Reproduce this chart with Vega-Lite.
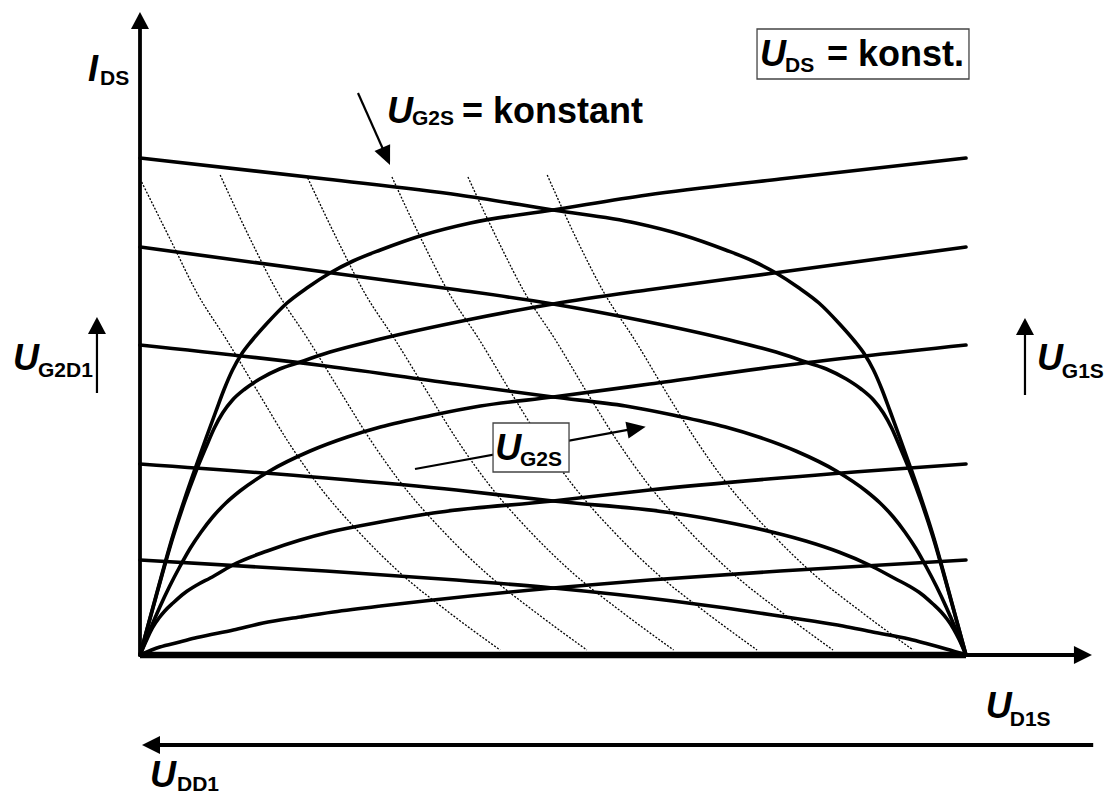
{
  "$schema": "https://vega.github.io/schema/vega-lite/v6.json",
  "width": 1107,
  "height": 796,
  "padding": 0,
  "autosize": {"type": "none"},
  "background": "white",
  "config": {"view": {"stroke": null}},
  "datasets": {
    "curves": [
      {"curve": "A1", "x": 0, "y": 0}, {"curve": "A1", "x": 2.0, "y": 12.2}, {"curve": "A1", "x": 4.0, "y": 24.0}, {"curve": "A1", "x": 5.4, "y": 31.2}, {"curve": "A1", "x": 6.7, "y": 37.4}, {"curve": "A1", "x": 8.0, "y": 43.4}, {"curve": "A1", "x": 9.2, "y": 48.8}, {"curve": "A1", "x": 10.2, "y": 53.2}, {"curve": "A1", "x": 11.2, "y": 57.0}, {"curve": "A1", "x": 12.3, "y": 60.2}, {"curve": "A1", "x": 13.5, "y": 62.8}, {"curve": "A1", "x": 15.3, "y": 66.2}, {"curve": "A1", "x": 17.8, "y": 70.4}, {"curve": "A1", "x": 20.2, "y": 73.4}, {"curve": "A1", "x": 23.0, "y": 76.4}, {"curve": "A1", "x": 25.8, "y": 78.8}, {"curve": "A1", "x": 29.1, "y": 81.0}, {"curve": "A1", "x": 34.3, "y": 84.0}, {"curve": "A1", "x": 40.0, "y": 86.4}, {"curve": "A1", "x": 50.0, "y": 89.0}, {"curve": "A1", "x": 61.4, "y": 92.0}, {"curve": "A1", "x": 77.5, "y": 95.2}, {"curve": "A1", "x": 100, "y": 99.4},
      {"curve": "A2", "x": 0, "y": 0}, {"curve": "A2", "x": 2.0, "y": 12.0}, {"curve": "A2", "x": 4.0, "y": 23.6}, {"curve": "A2", "x": 5.4, "y": 30.6}, {"curve": "A2", "x": 6.7, "y": 36.4}, {"curve": "A2", "x": 8.0, "y": 41.6}, {"curve": "A2", "x": 9.0, "y": 45.4}, {"curve": "A2", "x": 10.0, "y": 48.4}, {"curve": "A2", "x": 11.2, "y": 51.0}, {"curve": "A2", "x": 12.7, "y": 53.2}, {"curve": "A2", "x": 14.5, "y": 55.2}, {"curve": "A2", "x": 16.9, "y": 57.2}, {"curve": "A2", "x": 19.4, "y": 58.6}, {"curve": "A2", "x": 23.0, "y": 60.6}, {"curve": "A2", "x": 29.1, "y": 63.2}, {"curve": "A2", "x": 39.6, "y": 67.0}, {"curve": "A2", "x": 50.0, "y": 70.2}, {"curve": "A2", "x": 61.4, "y": 73.0}, {"curve": "A2", "x": 76.3, "y": 76.3}, {"curve": "A2", "x": 100, "y": 81.6},
      {"curve": "A3", "x": 0, "y": 0}, {"curve": "A3", "x": 1.2, "y": 5.0}, {"curve": "A3", "x": 2.4, "y": 9.6}, {"curve": "A3", "x": 3.6, "y": 13.8}, {"curve": "A3", "x": 4.8, "y": 17.6}, {"curve": "A3", "x": 6.1, "y": 21.4}, {"curve": "A3", "x": 7.4, "y": 24.6}, {"curve": "A3", "x": 8.8, "y": 27.6}, {"curve": "A3", "x": 10.4, "y": 30.4}, {"curve": "A3", "x": 12.1, "y": 32.8}, {"curve": "A3", "x": 15.7, "y": 36.8}, {"curve": "A3", "x": 20.6, "y": 40.8}, {"curve": "A3", "x": 25.1, "y": 43.6}, {"curve": "A3", "x": 29.1, "y": 45.6}, {"curve": "A3", "x": 35.5, "y": 48.0}, {"curve": "A3", "x": 41.2, "y": 49.8}, {"curve": "A3", "x": 50.0, "y": 51.6}, {"curve": "A3", "x": 61.7, "y": 54.2}, {"curve": "A3", "x": 77.5, "y": 57.8}, {"curve": "A3", "x": 100, "y": 62.0},
      {"curve": "A4", "x": 0, "y": 0}, {"curve": "A4", "x": 0.8, "y": 3.0}, {"curve": "A4", "x": 1.5, "y": 5.4}, {"curve": "A4", "x": 2.3, "y": 7.4}, {"curve": "A4", "x": 3.0, "y": 8.8}, {"curve": "A4", "x": 4.0, "y": 10.4}, {"curve": "A4", "x": 5.4, "y": 12.4}, {"curve": "A4", "x": 6.9, "y": 14.0}, {"curve": "A4", "x": 8.5, "y": 15.4}, {"curve": "A4", "x": 11.7, "y": 18.4}, {"curve": "A4", "x": 15.4, "y": 20.8}, {"curve": "A4", "x": 19.4, "y": 23.0}, {"curve": "A4", "x": 23.0, "y": 24.6}, {"curve": "A4", "x": 29.1, "y": 26.6}, {"curve": "A4", "x": 35.5, "y": 28.4}, {"curve": "A4", "x": 50.0, "y": 30.8}, {"curve": "A4", "x": 61.7, "y": 33.0}, {"curve": "A4", "x": 77.5, "y": 35.4}, {"curve": "A4", "x": 100, "y": 38.2},
      {"curve": "A5", "x": 0, "y": 0}, {"curve": "A5", "x": 2.4, "y": 1.6}, {"curve": "A5", "x": 4.8, "y": 2.6}, {"curve": "A5", "x": 6.9, "y": 3.5}, {"curve": "A5", "x": 11.3, "y": 5.0}, {"curve": "A5", "x": 14.9, "y": 6.4}, {"curve": "A5", "x": 19.4, "y": 7.6}, {"curve": "A5", "x": 23.4, "y": 8.6}, {"curve": "A5", "x": 29.1, "y": 9.8}, {"curve": "A5", "x": 35.5, "y": 11.0}, {"curve": "A5", "x": 50.0, "y": 13.4}, {"curve": "A5", "x": 61.7, "y": 15.0}, {"curve": "A5", "x": 77.5, "y": 16.8}, {"curve": "A5", "x": 100, "y": 19.0},
      {"curve": "B1", "x": 0, "y": 99.4}, {"curve": "B1", "x": 22.5, "y": 95.2}, {"curve": "B1", "x": 38.6, "y": 92.0}, {"curve": "B1", "x": 50.0, "y": 89.0}, {"curve": "B1", "x": 60.0, "y": 86.4}, {"curve": "B1", "x": 65.7, "y": 84.0}, {"curve": "B1", "x": 70.9, "y": 81.0}, {"curve": "B1", "x": 74.2, "y": 78.8}, {"curve": "B1", "x": 77.0, "y": 76.4}, {"curve": "B1", "x": 79.8, "y": 73.4}, {"curve": "B1", "x": 82.2, "y": 70.4}, {"curve": "B1", "x": 84.7, "y": 66.2}, {"curve": "B1", "x": 86.5, "y": 62.8}, {"curve": "B1", "x": 87.7, "y": 60.2}, {"curve": "B1", "x": 88.8, "y": 57.0}, {"curve": "B1", "x": 89.8, "y": 53.2}, {"curve": "B1", "x": 90.8, "y": 48.8}, {"curve": "B1", "x": 92.0, "y": 43.4}, {"curve": "B1", "x": 93.3, "y": 37.4}, {"curve": "B1", "x": 94.6, "y": 31.2}, {"curve": "B1", "x": 96.0, "y": 24.0}, {"curve": "B1", "x": 98.0, "y": 12.2}, {"curve": "B1", "x": 100, "y": 0},
      {"curve": "B2", "x": 0, "y": 81.6}, {"curve": "B2", "x": 23.7, "y": 76.3}, {"curve": "B2", "x": 38.6, "y": 73.0}, {"curve": "B2", "x": 50.0, "y": 70.2}, {"curve": "B2", "x": 60.4, "y": 67.0}, {"curve": "B2", "x": 70.9, "y": 63.2}, {"curve": "B2", "x": 77.0, "y": 60.6}, {"curve": "B2", "x": 80.6, "y": 58.6}, {"curve": "B2", "x": 83.1, "y": 57.2}, {"curve": "B2", "x": 85.5, "y": 55.2}, {"curve": "B2", "x": 87.3, "y": 53.2}, {"curve": "B2", "x": 88.8, "y": 51.0}, {"curve": "B2", "x": 90.0, "y": 48.4}, {"curve": "B2", "x": 91.0, "y": 45.4}, {"curve": "B2", "x": 92.0, "y": 41.6}, {"curve": "B2", "x": 93.3, "y": 36.4}, {"curve": "B2", "x": 94.6, "y": 30.6}, {"curve": "B2", "x": 96.0, "y": 23.6}, {"curve": "B2", "x": 98.0, "y": 12.0}, {"curve": "B2", "x": 100, "y": 0},
      {"curve": "B3", "x": 0, "y": 62.0}, {"curve": "B3", "x": 22.5, "y": 57.8}, {"curve": "B3", "x": 38.3, "y": 54.2}, {"curve": "B3", "x": 50.0, "y": 51.6}, {"curve": "B3", "x": 58.8, "y": 49.8}, {"curve": "B3", "x": 64.5, "y": 48.0}, {"curve": "B3", "x": 70.9, "y": 45.6}, {"curve": "B3", "x": 74.9, "y": 43.6}, {"curve": "B3", "x": 79.4, "y": 40.8}, {"curve": "B3", "x": 84.3, "y": 36.8}, {"curve": "B3", "x": 87.9, "y": 32.8}, {"curve": "B3", "x": 89.6, "y": 30.4}, {"curve": "B3", "x": 91.2, "y": 27.6}, {"curve": "B3", "x": 92.6, "y": 24.6}, {"curve": "B3", "x": 93.9, "y": 21.4}, {"curve": "B3", "x": 95.2, "y": 17.6}, {"curve": "B3", "x": 96.4, "y": 13.8}, {"curve": "B3", "x": 97.6, "y": 9.6}, {"curve": "B3", "x": 98.8, "y": 5.0}, {"curve": "B3", "x": 100, "y": 0},
      {"curve": "B4", "x": 0, "y": 38.2}, {"curve": "B4", "x": 22.5, "y": 35.4}, {"curve": "B4", "x": 38.3, "y": 33.0}, {"curve": "B4", "x": 50.0, "y": 30.8}, {"curve": "B4", "x": 64.5, "y": 28.4}, {"curve": "B4", "x": 70.9, "y": 26.6}, {"curve": "B4", "x": 77.0, "y": 24.4}, {"curve": "B4", "x": 80.6, "y": 22.8}, {"curve": "B4", "x": 84.6, "y": 20.6}, {"curve": "B4", "x": 88.3, "y": 18.0}, {"curve": "B4", "x": 91.5, "y": 15.2}, {"curve": "B4", "x": 93.1, "y": 13.8}, {"curve": "B4", "x": 94.6, "y": 12.2}, {"curve": "B4", "x": 96.0, "y": 10.2}, {"curve": "B4", "x": 97.0, "y": 8.6}, {"curve": "B4", "x": 97.7, "y": 7.2}, {"curve": "B4", "x": 98.5, "y": 5.2}, {"curve": "B4", "x": 99.2, "y": 3.0}, {"curve": "B4", "x": 100, "y": 0},
      {"curve": "B5", "x": 0, "y": 19.0}, {"curve": "B5", "x": 22.5, "y": 16.8}, {"curve": "B5", "x": 38.3, "y": 15.0}, {"curve": "B5", "x": 50.0, "y": 13.4}, {"curve": "B5", "x": 64.5, "y": 10.8}, {"curve": "B5", "x": 70.9, "y": 9.4}, {"curve": "B5", "x": 76.6, "y": 8.0}, {"curve": "B5", "x": 80.6, "y": 7.0}, {"curve": "B5", "x": 85.1, "y": 5.8}, {"curve": "B5", "x": 88.7, "y": 4.6}, {"curve": "B5", "x": 93.1, "y": 3.2}, {"curve": "B5", "x": 95.2, "y": 2.3}, {"curve": "B5", "x": 97.6, "y": 1.2}, {"curve": "B5", "x": 100, "y": 0}
    ],
    "dotted": [
      {"curve": "D1", "x": 0.2, "y": 94.6}, {"curve": "D1", "x": 4.0, "y": 82.0}, {"curve": "D1", "x": 6.9, "y": 72.4}, {"curve": "D1", "x": 10.5, "y": 63.0}, {"curve": "D1", "x": 14.5, "y": 52.0}, {"curve": "D1", "x": 17.8, "y": 43.0}, {"curve": "D1", "x": 21.4, "y": 34.4}, {"curve": "D1", "x": 26.6, "y": 24.4}, {"curve": "D1", "x": 31.5, "y": 16.4}, {"curve": "D1", "x": 37.5, "y": 8.4}, {"curve": "D1", "x": 43.6, "y": 1.0},
      {"curve": "D2", "x": 9.7, "y": 96.0}, {"curve": "D2", "x": 13.7, "y": 82.0}, {"curve": "D2", "x": 16.7, "y": 72.4}, {"curve": "D2", "x": 20.4, "y": 63.0}, {"curve": "D2", "x": 24.5, "y": 52.0}, {"curve": "D2", "x": 27.9, "y": 43.0}, {"curve": "D2", "x": 31.6, "y": 34.4}, {"curve": "D2", "x": 36.9, "y": 24.4}, {"curve": "D2", "x": 41.9, "y": 16.4}, {"curve": "D2", "x": 48.0, "y": 8.4}, {"curve": "D2", "x": 54.1, "y": 1.0},
      {"curve": "D3", "x": 20.3, "y": 95.4}, {"curve": "D3", "x": 24.2, "y": 82.0}, {"curve": "D3", "x": 27.2, "y": 72.4}, {"curve": "D3", "x": 30.9, "y": 63.0}, {"curve": "D3", "x": 35.0, "y": 52.0}, {"curve": "D3", "x": 38.4, "y": 43.0}, {"curve": "D3", "x": 42.1, "y": 34.4}, {"curve": "D3", "x": 47.4, "y": 24.4}, {"curve": "D3", "x": 52.4, "y": 16.4}, {"curve": "D3", "x": 58.5, "y": 8.4}, {"curve": "D3", "x": 64.6, "y": 1.0},
      {"curve": "D4", "x": 30.5, "y": 95.6}, {"curve": "D4", "x": 34.4, "y": 82.0}, {"curve": "D4", "x": 37.4, "y": 72.4}, {"curve": "D4", "x": 41.1, "y": 63.0}, {"curve": "D4", "x": 45.1, "y": 52.0}, {"curve": "D4", "x": 48.5, "y": 43.0}, {"curve": "D4", "x": 52.2, "y": 34.4}, {"curve": "D4", "x": 57.5, "y": 24.4}, {"curve": "D4", "x": 62.5, "y": 16.4}, {"curve": "D4", "x": 68.6, "y": 8.4}, {"curve": "D4", "x": 74.7, "y": 1.0},
      {"curve": "D5", "x": 39.7, "y": 95.6}, {"curve": "D5", "x": 43.6, "y": 82.0}, {"curve": "D5", "x": 46.6, "y": 72.4}, {"curve": "D5", "x": 50.3, "y": 63.0}, {"curve": "D5", "x": 54.3, "y": 52.0}, {"curve": "D5", "x": 57.7, "y": 43.0}, {"curve": "D5", "x": 61.4, "y": 34.4}, {"curve": "D5", "x": 66.7, "y": 24.4}, {"curve": "D5", "x": 71.7, "y": 16.4}, {"curve": "D5", "x": 77.8, "y": 8.4}, {"curve": "D5", "x": 83.9, "y": 1.0},
      {"curve": "D6", "x": 49.3, "y": 96.0}, {"curve": "D6", "x": 53.2, "y": 82.0}, {"curve": "D6", "x": 56.2, "y": 72.4}, {"curve": "D6", "x": 59.9, "y": 63.0}, {"curve": "D6", "x": 63.9, "y": 52.0}, {"curve": "D6", "x": 67.3, "y": 43.0}, {"curve": "D6", "x": 71.0, "y": 34.4}, {"curve": "D6", "x": 76.4, "y": 24.4}, {"curve": "D6", "x": 81.4, "y": 16.4}, {"curve": "D6", "x": 87.5, "y": 8.4}, {"curve": "D6", "x": 93.6, "y": 1.0}
    ],
    "axisThick": [
      {"name": "U_D1S range", "x": 0, "y": 0, "x2": 100, "y2": 0}
    ],
    "axisLines": [
      {"name": "I_DS axis", "x": 0, "y": 0, "x2": 0, "y2": 125.6},
      {"name": "U_D1S axis", "x": 99.5, "y": 0, "x2": 113.4, "y2": 0},
      {"name": "U_DD1", "x": 2.2, "y": -18.0, "x2": 115.4, "y2": -18.0}
    ],
    "thinArrows": [
      {"name": "U_G2D1", "x": -5.21, "y": 52.4, "x2": -5.21, "y2": 65.0},
      {"name": "U_G1S", "x": 107.14, "y": 52.0, "x2": 107.14, "y2": 64.8},
      {"name": "U_G2S konstant", "x": 26.39, "y": 112.4, "x2": 29.84, "y2": 99.6},
      {"name": "U_G2S", "x": 33.29, "y": 37.2, "x2": 60.19, "y2": 45.36}
    ],
    "boxes": [
      {"name": "U_DS konst", "x": 74.70, "y": 125.2, "x2": 100.36, "y2": 115.2},
      {"name": "U_G2S", "x": 42.74, "y": 46.4, "x2": 51.94, "y2": 36.6}
    ],
    "headsUp": [
      {"name": "I_DS axis", "x": 0, "y": 128.6},
      {"name": "U_G2D1", "x": -5.21, "y": 67.6},
      {"name": "U_G1S", "x": 107.14, "y": 67.4}
    ],
    "headRight": [{"name": "U_D1S axis", "x": 115.25, "y": 0}],
    "headLeft": [{"name": "U_DD1", "x": 0.24, "y": -18.0}],
    "headKonst": [{"name": "U_G2S konstant", "x": 30.27, "y": 98.0}],
    "headG2S": [{"name": "U_G2S", "x": 61.22, "y": 45.66}],
    "symbols": [
      {"t": "I", "x": -6.3, "y": 114.8},
      {"t": "U", "x": 29.9, "y": 106.4},
      {"t": "U", "x": 75.06, "y": 117.8},
      {"t": "U", "x": -15.38, "y": 57.0},
      {"t": "U", "x": 108.6, "y": 57.0},
      {"t": "U", "x": 102.4, "y": -12.6},
      {"t": "U", "x": 1.21, "y": -26.4},
      {"t": "U", "x": 43.0, "y": 39.0}
    ],
    "subscripts": [
      {"t": "DS", "x": -4.84, "y": 114.0},
      {"t": "G2S", "x": 32.93, "y": 106.0},
      {"t": "DS", "x": 78.09, "y": 116.6},
      {"t": "G2D1", "x": -12.35, "y": 55.6},
      {"t": "G1S", "x": 111.6, "y": 55.4},
      {"t": "D1S", "x": 105.3, "y": -14.2},
      {"t": "DD1", "x": 4.48, "y": -27.2},
      {"t": "G2S", "x": 46.0, "y": 37.8}
    ],
    "phrases": [
      {"t": "= konstant", "x": 38.98, "y": 106.4},
      {"t": "= konst.", "x": 83.17, "y": 117.8}
    ]
  },
  "encoding": {
    "x": {"field": "x", "type": "quantitative", "scale": {"domain": [-16.949, 117.07], "nice": false, "zero": false}, "axis": null},
    "y": {"field": "y", "type": "quantitative", "scale": {"domain": [-28.2, 131], "nice": false, "zero": false}, "axis": null}
  },
  "layer": [
    {
      "data": {"name": "dotted"},
      "mark": {"type": "line", "interpolate": "monotone", "color": "black", "strokeWidth": 1.3, "strokeDash": [2, 1.6]},
      "encoding": {"detail": {"field": "curve"}}
    },
    {
      "data": {"name": "curves"},
      "mark": {"type": "line", "interpolate": "monotone", "color": "black", "strokeWidth": 3.6, "strokeJoin": "round", "strokeCap": "round"},
      "encoding": {"detail": {"field": "curve"}}
    },
    {
      "data": {"name": "axisThick"},
      "mark": {"type": "rule", "color": "black", "strokeWidth": 6.5},
      "encoding": {"x2": {"field": "x2"}, "y2": {"field": "y2"}}
    },
    {
      "data": {"name": "axisLines"},
      "mark": {"type": "rule", "color": "black", "strokeWidth": 3.8},
      "encoding": {"x2": {"field": "x2"}, "y2": {"field": "y2"}}
    },
    {
      "data": {"name": "thinArrows"},
      "mark": {"type": "rule", "color": "black", "strokeWidth": 2.2},
      "encoding": {"x2": {"field": "x2"}, "y2": {"field": "y2"}}
    },
    {
      "data": {"name": "boxes"},
      "mark": {"type": "rect", "fill": "white", "stroke": "#444444", "strokeWidth": 1.3},
      "encoding": {"x2": {"field": "x2"}, "y2": {"field": "y2"}}
    },
    {
      "data": {"name": "headsUp"},
      "mark": {"type": "point", "shape": "M0,0L0.53,1L-0.53,1Z", "size": 1156, "filled": true, "color": "black", "opacity": 1, "angle": 0}
    },
    {
      "data": {"name": "headRight"},
      "mark": {"type": "point", "shape": "M0,0L0.5,1L-0.5,1Z", "size": 1296, "filled": true, "color": "black", "opacity": 1, "angle": 90}
    },
    {
      "data": {"name": "headLeft"},
      "mark": {"type": "point", "shape": "M0,0L0.5,1L-0.5,1Z", "size": 1296, "filled": true, "color": "black", "opacity": 1, "angle": 270}
    },
    {
      "data": {"name": "headKonst"},
      "mark": {"type": "point", "shape": "M0,0L0.45,1L-0.45,1Z", "size": 1444, "filled": true, "color": "black", "opacity": 1, "angle": 156}
    },
    {
      "data": {"name": "headG2S"},
      "mark": {"type": "point", "shape": "M0,0L0.45,1L-0.45,1Z", "size": 1444, "filled": true, "color": "black", "opacity": 1, "angle": 79.6}
    },
    {
      "data": {"name": "symbols"},
      "mark": {"type": "text", "align": "left", "baseline": "alphabetic", "font": "Liberation Sans", "fontWeight": "bold", "fontStyle": "italic", "fontSize": 36, "color": "black"},
      "encoding": {"text": {"field": "t"}}
    },
    {
      "data": {"name": "subscripts"},
      "mark": {"type": "text", "align": "left", "baseline": "alphabetic", "font": "Liberation Sans", "fontWeight": "bold", "fontSize": 21, "color": "black"},
      "encoding": {"text": {"field": "t"}}
    },
    {
      "data": {"name": "phrases"},
      "mark": {"type": "text", "align": "left", "baseline": "alphabetic", "font": "Liberation Sans", "fontWeight": "bold", "fontSize": 36, "color": "black"},
      "encoding": {"text": {"field": "t"}}
    }
  ]
}
